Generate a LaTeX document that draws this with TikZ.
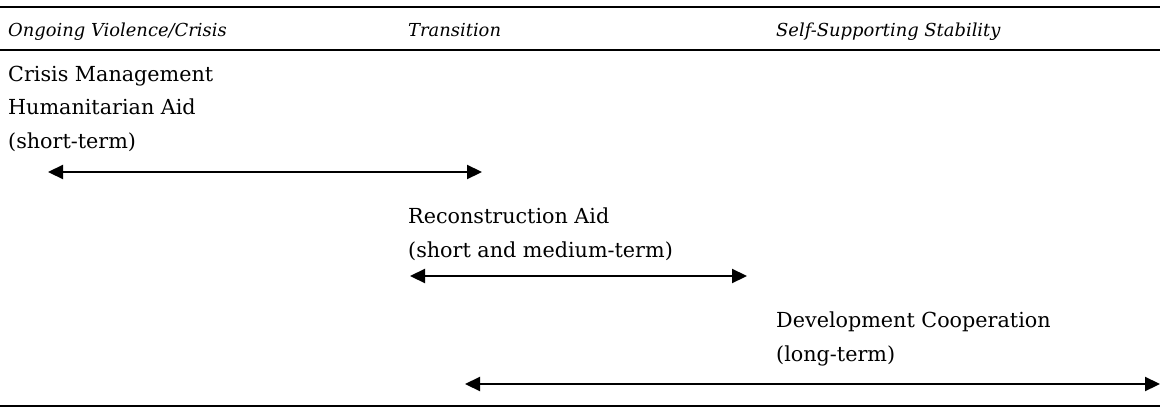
\documentclass[tikz,border=0pt]{standalone}
\usepackage{fontspec}
\setmainfont{DejaVu Serif}
\usepackage{tikz}
\usetikzlibrary{arrows.meta}
\tikzset{%
  phase/.style = {anchor=base west, inner sep=0pt,
    font=\fontsize{17.9}{22}\selectfont\itshape},
  aid/.style = {anchor=north west, inner sep=0pt, align=left,
    font=\fontsize{20.7}{33.5}\selectfont},
  rule/.style = {line width=2pt},
  span/.style = {line width=2.2pt,
    {Triangle[length=15pt,width=14pt]}-{Triangle[length=15pt,width=14pt]}}
}
\begin{document}
\begin{tikzpicture}[x=1pt,y=-1pt]
\useasboundingbox (0,0) rectangle (1160,407);
\draw[rule] (0,7) -- (1160,7);
\draw[rule] (0,50) -- (1160,50);
\draw[rule] (0,406) -- (1160,406);
\node[phase] (violence) at (8,36.5) {Ongoing Violence/Crisis};
\node[phase] (transition) at (408,36.5) {Transition};
\node[phase] (stability) at (776,36.5) {Self-Supporting Stability};
\node[aid] (humanitarian) at (8,65.5) {Crisis Management\\Humanitarian Aid\\(short-term)};
\node[aid] (reconstruction) at (408,208) {Reconstruction Aid\\(short and medium-term)};
\node[aid] (development) at (776,312) {Development Cooperation\\(long-term)};
\coordinate (humanitarian-start) at (48,172);
\coordinate (humanitarian-end) at (482,172);
\coordinate (reconstruction-start) at (410,276);
\coordinate (reconstruction-end) at (747,276);
\coordinate (development-start) at (465,384);
\coordinate (development-end) at (1160,384);
\draw[span] (humanitarian-start) -- (humanitarian-end);
\draw[span] (reconstruction-start) -- (reconstruction-end);
\draw[span] (development-start) -- (development-end);
\end{tikzpicture}
\end{document}
